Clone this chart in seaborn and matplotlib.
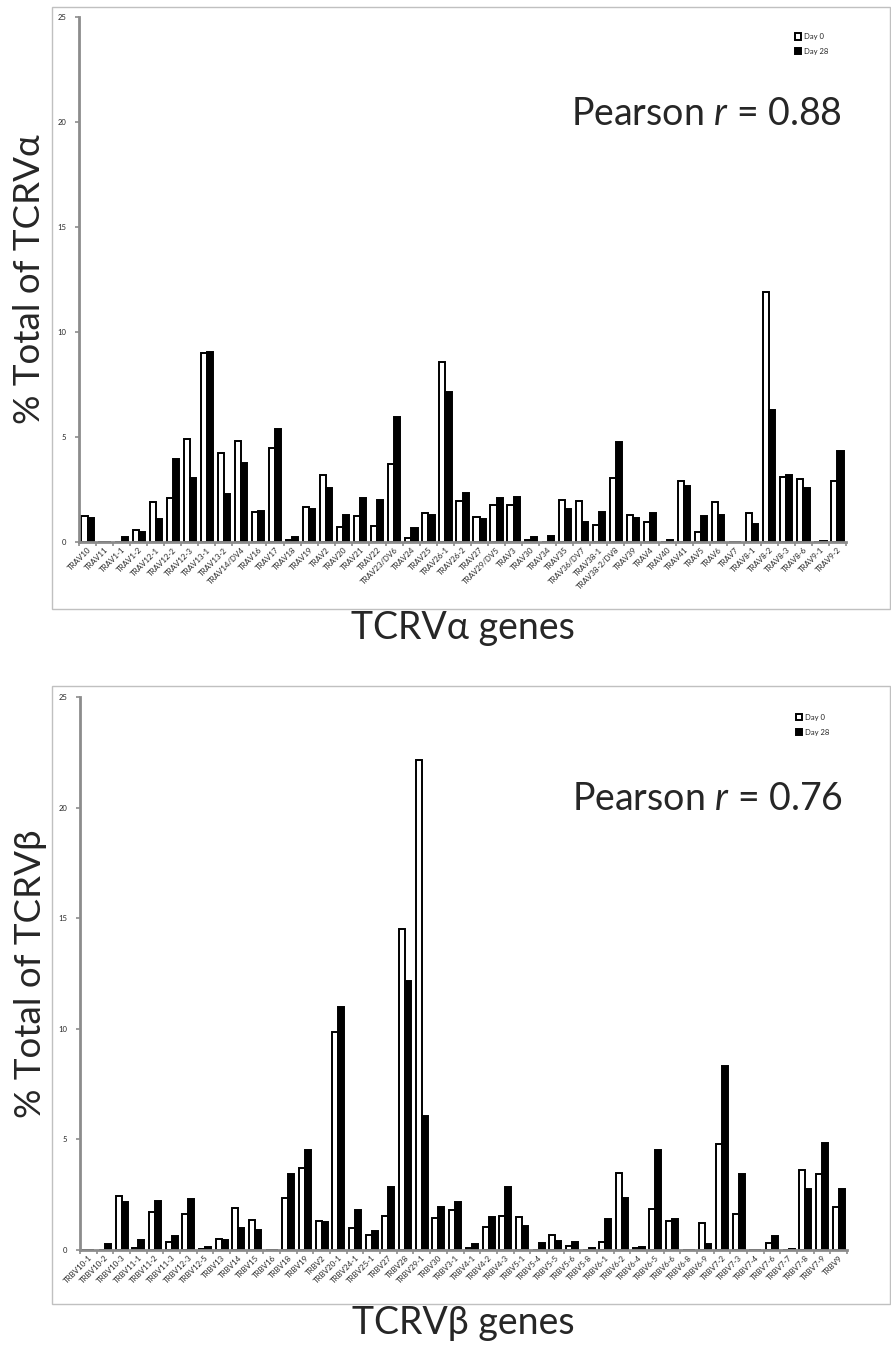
import numpy as np
import pandas as pd
import matplotlib
matplotlib.use("Agg")
import matplotlib.pyplot as plt
import seaborn as sns
from matplotlib.patches import Rectangle

# ─── Data ────────────────────────────────────────────────────────────────────
TRAV_GENES = ["TRAV10", "TRAV11", "TRAV1-1", "TRAV1-2", "TRAV12-1", "TRAV12-2",
              "TRAV12-3", "TRAV13-1", "TRAV13-2", "TRAV14/DV4", "TRAV16", "TRAV17",
              "TRAV18", "TRAV19", "TRAV2", "TRAV20", "TRAV21", "TRAV22",
              "TRAV23/DV6", "TRAV24", "TRAV25", "TRAV26-1", "TRAV26-2", "TRAV27",
              "TRAV29/DV5", "TRAV3", "TRAV30", "TRAV34", "TRAV35", "TRAV36/DV7",
              "TRAV38-1", "TRAV38-2/DV8", "TRAV39", "TRAV4", "TRAV40", "TRAV41",
              "TRAV5", "TRAV6", "TRAV7", "TRAV8-1", "TRAV8-2", "TRAV8-3",
              "TRAV8-6", "TRAV9-1", "TRAV9-2"]
TRAV_DAY0 = [1.25, 0, 0, 0.55, 1.9, 2.1, 4.9, 9.0, 4.25, 4.8, 1.45, 4.5,
             0.1, 1.65, 3.2, 0.7, 1.25, 0.75, 3.7, 0.2, 1.4, 8.55, 1.95, 1.2,
             1.75, 1.75, 0.1, 0, 2.0, 1.95, 0.8, 3.05, 1.3, 0.95, 0, 2.9,
             0.5, 1.9, 0, 1.4, 11.9, 3.1, 3.0, 0, 2.9]
TRAV_DAY28 = [1.15, 0, 0.25, 0.5, 1.1, 3.95, 3.05, 9.05, 2.3, 3.75, 1.5, 5.4,
              0.25, 1.55, 2.55, 1.3, 2.1, 2.0, 5.95, 0.65, 1.3, 7.15, 2.35, 1.1,
              2.1, 2.15, 0.25, 0.3, 1.55, 0.95, 1.45, 4.75, 1.15, 1.4, 0.1, 2.65,
              1.25, 1.3, 0, 0.85, 6.3, 3.2, 2.55, 0.05, 4.35]

TRBV_GENES = ["TRBV10-1", "TRBV10-2", "TRBV10-3", "TRBV11-1", "TRBV11-2", "TRBV11-3",
              "TRBV12-3", "TRBV12-5", "TRBV13", "TRBV14", "TRBV15", "TRBV16",
              "TRBV18", "TRBV19", "TRBV2", "TRBV20-1", "TRBV24-1", "TRBV25-1",
              "TRBV27", "TRBV28", "TRBV29-1", "TRBV30", "TRBV3-1", "TRBV4-1",
              "TRBV4-2", "TRBV4-3", "TRBV5-1", "TRBV5-4", "TRBV5-5", "TRBV5-6",
              "TRBV5-8", "TRBV6-1", "TRBV6-2", "TRBV6-4", "TRBV6-5", "TRBV6-6",
              "TRBV6-8", "TRBV6-9", "TRBV7-2", "TRBV7-3", "TRBV7-4", "TRBV7-6",
              "TRBV7-7", "TRBV7-8", "TRBV7-9", "TRBV9"]
TRBV_DAY0 = [0, 0, 2.45, 0.1, 1.7, 0.35, 1.65, 0.05, 0.5, 1.9, 1.35, 0,
             2.35, 3.7, 1.3, 9.85, 1.0, 0.7, 1.55, 14.5, 22.15, 1.45, 1.8, 0.1,
             1.05, 1.55, 1.5, 0, 0.7, 0.2, 0, 0.35, 3.5, 0.1, 1.85, 1.3,
             0, 1.2, 4.8, 1.65, 0, 0.3, 0, 3.6, 3.45, 1.95]
TRBV_DAY28 = [0, 0.25, 2.15, 0.45, 2.2, 0.65, 2.3, 0.15, 0.45, 1.0, 0.9, 0,
              3.45, 4.5, 1.25, 11.0, 1.8, 0.85, 2.85, 12.15, 6.05, 1.95, 2.15, 0.25,
              1.5, 2.85, 1.1, 0.3, 0.4, 0.35, 0.1, 1.4, 2.35, 0.15, 4.5, 1.4,
              0, 0.25, 8.3, 3.45, 0, 0.65, 0.05, 2.75, 4.85, 2.75]

DAYS = ["Day 0", "Day 28"]
TOP_R = "0.88"
BOTTOM_R = "0.76"

# ─── Styling ─────────────────────────────────────────────────────────────────
sns.set_theme(style="white")
plt.rcParams["font.family"] = ["Lato", "DejaVu Sans"]
plt.rcParams["mathtext.fontset"] = "custom"
plt.rcParams["mathtext.rm"] = "Lato"
plt.rcParams["mathtext.it"] = "Lato:italic"

AXIS_GRAY = "#8c8c8c"
FRAME_GRAY = "#c0c0c0"


def long_table(genes, day0, day28):
    return pd.DataFrame({
        "gene": genes * 2,
        "pct": list(day0) + list(day28),
        "day": [DAYS[0]] * len(genes) + [DAYS[1]] * len(genes),
    })


def draw_panel(ax, df, genes, ylabel, xlabel, r_text, xlabel_y):
    sns.barplot(data=df, x="gene", y="pct", hue="day", order=genes,
                hue_order=DAYS, palette=["white", "black"], edgecolor="black",
                linewidth=1.4, width=0.72, errorbar=None, ax=ax)
    n = len(genes)
    ax.set_xlim(-0.5, n - 0.5)
    ax.set_ylim(0, 25)
    ax.set_yticks([0, 5, 10, 15, 20, 25])
    ax.tick_params(axis="y", length=3, width=1.2, color=AXIS_GRAY,
                   labelsize=5.5, pad=6, left=True)
    ax.set_xticks(range(n))
    ax.set_xticklabels(genes, rotation=45, ha="right", rotation_mode="anchor",
                       fontsize=5.7)
    ax.tick_params(axis="x", which="major", length=0, pad=3)
    ax.set_xticks(np.arange(-0.5, n, 1.0), minor=True)
    ax.tick_params(axis="x", which="minor", length=3, width=1.2,
                   color=AXIS_GRAY, bottom=True)
    for side in ["top", "right"]:
        ax.spines[side].set_visible(False)
    for side in ["left", "bottom"]:
        ax.spines[side].set_color(AXIS_GRAY)
        ax.spines[side].set_linewidth(2)
    ax.set_ylabel(ylabel, fontsize=26.5, labelpad=8)
    ax.set_xlabel(xlabel, fontsize=27, va="center")
    ax.xaxis.set_label_coords(0.5, xlabel_y)
    ax.text(0.995, 0.815, "Pearson $r$ = " + r_text, transform=ax.transAxes,
            ha="right", va="center", fontsize=27)
    handles, labels = ax.get_legend_handles_labels()
    ax.legend(handles, labels, loc="upper left", bbox_to_anchor=(0.93, 0.975),
              frameon=False, fontsize=5.5, handlelength=0.7, handleheight=0.9,
              handletextpad=0.4, labelspacing=1.0, borderaxespad=0)


def main():
    fig = plt.figure(figsize=(8.91, 13.51), dpi=100)

    # panel frames
    fig.patches.append(Rectangle((52 / 891, 1 - 609 / 1351), 838 / 891, 602 / 1351,
                                 transform=fig.transFigure, fill=False,
                                 edgecolor=FRAME_GRAY, linewidth=1))
    fig.patches.append(Rectangle((52 / 891, 1 - 1304 / 1351), 838 / 891, 618 / 1351,
                                 transform=fig.transFigure, fill=False,
                                 edgecolor=FRAME_GRAY, linewidth=1))

    ax_top = fig.add_axes([79 / 891, 1 - 542 / 1351, 767 / 891, 525 / 1351])
    ax_bot = fig.add_axes([80 / 891, 1 - 1250 / 1351, 767 / 891, 553 / 1351])

    draw_panel(ax_top, long_table(TRAV_GENES, TRAV_DAY0, TRAV_DAY28), TRAV_GENES,
               "% Total of TCRV\u03b1", "TCRV\u03b1 genes", TOP_R, -86 / 525)
    draw_panel(ax_bot, long_table(TRBV_GENES, TRBV_DAY0, TRBV_DAY28), TRBV_GENES,
               "% Total of TCRV\u03b2", "TCRV\u03b2 genes", BOTTOM_R, -73 / 553)

    fig.savefig("out.png", dpi=100)
    plt.close(fig)


if __name__ == "__main__":
    main()
